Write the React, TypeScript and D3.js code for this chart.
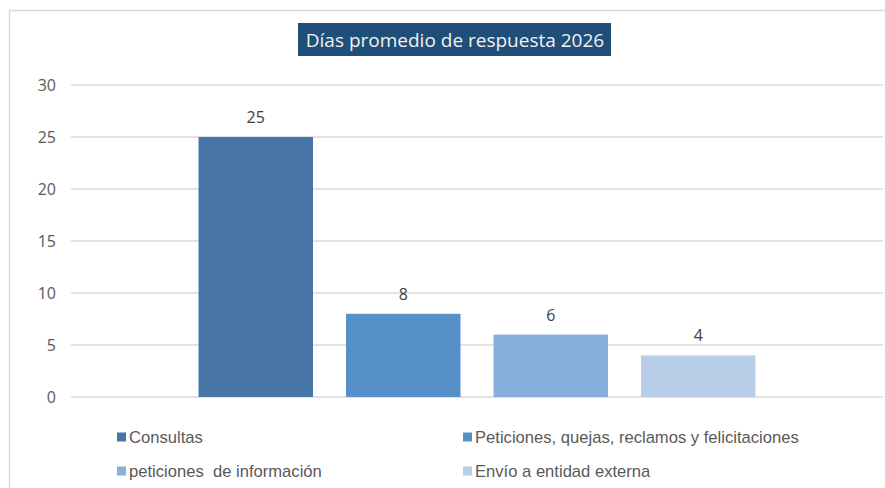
import React from 'react';
import * as d3 from 'd3';

const title = 'Días promedio de respuesta 2026';
const series = [
  'Consultas',
  'Peticiones, quejas, reclamos y felicitaciones',
  'peticiones  de información',
  'Envío a entidad externa',
];
const values = [25, 8, 6, 4];
const colors = ['#4675A6', '#5590C8', '#86AFDC', '#B7CDE8'];
const yTicks = [0, 5, 10, 15, 20, 25, 30];

const W = 885;
const H = 488;
const margin = { top: 85, right: 2, bottom: 91, left: 71 };

const App = () => {
  const y = d3.scaleLinear().domain([0, 30]).range([H - margin.bottom, margin.top]);

  // one category, four series side by side
  const x0 = d3.scaleBand<string>().domain(['']).range([margin.left, W - margin.right]).paddingOuter(0.229);
  const x1 = d3
    .scaleBand<string>()
    .domain(series)
    .range([0, x0.bandwidth()])
    .paddingInner(0.224)
    .paddingOuter(0);
  const base = x0('') ?? 0;

  const legendPos = [
    { x: 117, y: 437 },
    { x: 463, y: 437 },
    { x: 117, y: 471 },
    { x: 463, y: 471 },
  ];

  return (
    <svg width={W} height={H} style={{ position: 'absolute', left: 0, top: 0, background: '#fff' }}>
      {/* chart border */}
      <rect x={9.5} y={10.5} width={W} height={H} fill="#fff" stroke="#D9D9D9" strokeWidth={1.5} />

      {/* title */}
      <rect x={298} y={23} width={313} height={33} fill="#1F4E79" />
      <text
        x={455}
        y={40}
        textAnchor="middle"
        dominantBaseline="central"
        fill="#F2F2F2"
        fontFamily="'Open Sans', 'Noto Sans', sans-serif"
        fontSize={19}
      >
        {title}
      </text>

      {/* gridlines + y labels */}
      {yTicks.map((t) => (
        <g key={t}>
          <line x1={margin.left} x2={W - margin.right} y1={y(t)} y2={y(t)} stroke="#D9D9D9" strokeWidth={1.3} />
          <text
            x={56}
            y={y(t)}
            textAnchor="end"
            dominantBaseline="central"
            fill="#595959"
            fontFamily="'Open Sans', 'Noto Sans', sans-serif"
            fontSize={16}
          >
            {t}
          </text>
        </g>
      ))}

      {/* bars */}
      {series.map((s, i) => {
        const bx = base + (x1(s) ?? 0);
        return (
          <g key={s}>
            <rect x={bx} y={y(values[i])} width={x1.bandwidth()} height={y(0) - y(values[i])} fill={colors[i]} />
            <text
              x={bx + x1.bandwidth() / 2}
              y={y(values[i]) - 20}
              textAnchor="middle"
              dominantBaseline="central"
              fill="#404040"
              fontFamily="'Open Sans', 'Noto Sans', sans-serif"
              fontSize={16}
            >
              {values[i]}
            </text>
          </g>
        );
      })}

      {/* legend */}
      {series.map((s, i) => (
        <g key={s} transform={`translate(${legendPos[i].x},${legendPos[i].y})`}>
          <rect x={0} y={-4.5} width={9} height={9} fill={colors[i]} />
          <text
            x={12}
            y={0}
            dominantBaseline="central"
            fill="#595959"
            fontFamily="'Liberation Sans', Arial, sans-serif"
            fontSize={16.6}
            style={{ whiteSpace: 'pre' }}
          >
            {s}
          </text>
        </g>
      ))}
    </svg>
  );
};

export default App;
